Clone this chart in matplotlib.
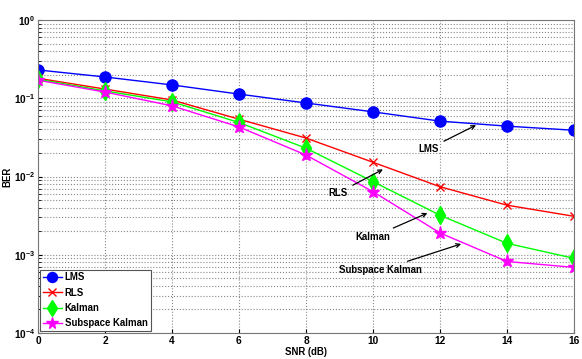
import matplotlib
matplotlib.use("Agg")
import matplotlib.pyplot as plt
from matplotlib.ticker import LogLocator, NullFormatter

snr = [0, 2, 4, 6, 8, 10, 12, 14, 16]
lms = [0.23, 0.187, 0.148, 0.113, 0.087, 0.067, 0.051, 0.044, 0.039]
rls = [0.18, 0.131, 0.095, 0.054, 0.031, 0.0152, 0.0074, 0.0043, 0.0031]
kalman = [0.175, 0.124, 0.09, 0.049, 0.023, 0.0086, 0.0032, 0.0014, 0.0009]
subspace = [0.17, 0.12, 0.08, 0.043, 0.0188, 0.0064, 0.0019, 0.00082, 0.00069]
labels = ["LMS", "RLS", "Kalman", "Subspace Kalman"]

plt.rcParams['font.family'] = ['Liberation Sans', 'DejaVu Sans']
plt.rcParams['font.weight'] = 'bold'
FS = 6.9

fig = plt.figure(figsize=(5.82, 3.59), dpi=100)
ax = fig.add_axes([38/582, 1-333/359, 536/582, 313/359])

ax.semilogy(snr, lms, '-o', color='#0000ff', lw=1, ms=8, label=labels[0])
ax.semilogy(snr, rls, '-x', color='#ff0000', lw=1, ms=6, mew=1, label=labels[1])
ax.semilogy(snr, kalman, '-d', color='#00ff00', lw=1, ms=9, label=labels[2])
ax.semilogy(snr, subspace, '-*', color='#ff00ff', lw=1, ms=9.5, label=labels[3])

ax.set_xlim(0, 16)
ax.set_ylim(1e-4, 1)
ax.set_xticks(snr)
ax.yaxis.set_major_locator(LogLocator(base=10, numticks=10))
ax.yaxis.set_minor_locator(LogLocator(base=10, subs=range(2, 10), numticks=10))
ax.yaxis.set_minor_formatter(NullFormatter())
ax.grid(True, which='major', color='#888888', linestyle=':', lw=0.8)
ax.grid(True, which='minor', axis='y', color='#888888', linestyle=':', lw=0.8)
ax.tick_params(labelsize=FS + 0.4, direction='in', length=3, pad=2)
ax.tick_params(which='minor', length=2, direction='in')
for s in ax.spines.values():
    s.set_color('#777777')

ax.set_xlabel("SNR (dB)", fontsize=FS, fontweight='bold', labelpad=1)
ax.set_ylabel("BER", fontsize=FS, fontweight='bold', labelpad=1)

ann = dict(arrowprops=dict(arrowstyle='->', color='black', lw=0.9), fontsize=FS,
           fontweight='bold', ha='right', va='center')
ax.annotate("LMS", xy=(13.15, 0.047), xytext=(11.96, 0.0225), **ann)
ax.annotate("RLS", xy=(10.37, 0.0128), xytext=(9.24, 0.00615), **ann)
ax.annotate("Kalman", xy=(11.70, 0.00352), xytext=(10.52, 0.00169), **ann)
ax.annotate("Subspace Kalman", xy=(12.71, 0.00141), xytext=(11.47, 0.00064), **ann)

leg = ax.legend(loc='lower left', fontsize=FS, borderaxespad=0.2, handlelength=2.0,
                labelspacing=0.55, borderpad=0.3, fancybox=False, framealpha=1,
                edgecolor='#555555', handletextpad=0.3, markerscale=0.9)
leg.get_frame().set_linewidth(0.8)

fig.savefig("out.png", dpi=100)
